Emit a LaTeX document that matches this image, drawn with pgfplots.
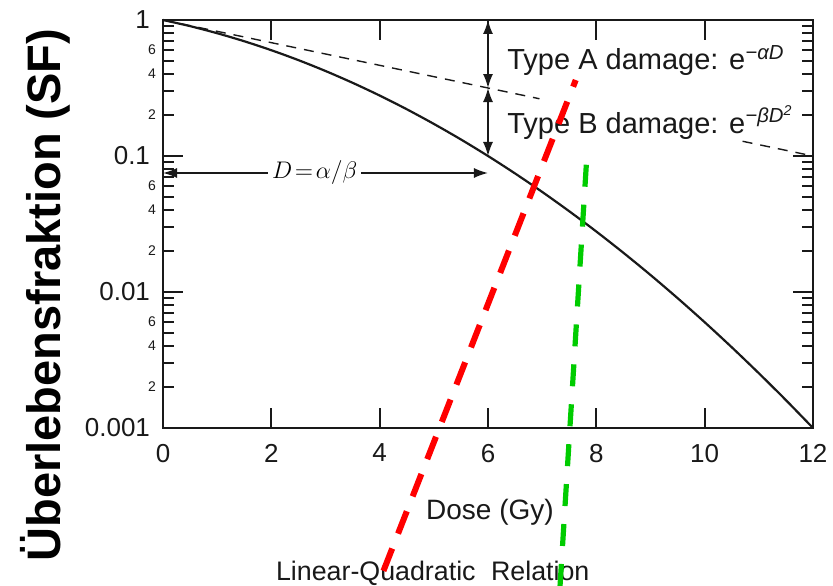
\documentclass[border=0pt]{standalone}
\usepackage{pgfplots}
\pgfplotsset{compat=1.18}
\usepackage{fontspec}
\setmainfont{Liberation Sans}
\usetikzlibrary{arrows.meta}
\definecolor{ink}{RGB}{25,25,25}
\definecolor{lqred}{RGB}{255,0,0}
\definecolor{lqgreen}{RGB}{0,204,0}

% linear-quadratic survival curve, SF(D)
\pgfplotstableread{
D     SF
0     1
0.5   0.9013
1     0.7994
1.5   0.6978
2     0.5995
2.5   0.5069
3     0.4217
3.5   0.3453
4     0.2783
4.5   0.2207
5     0.1722
5.5   0.1323
6     0.1
6.5   0.07439
7     0.05445
7.5   0.03924
8     0.02783
8.5   0.01942
9     0.01334
9.5   0.009013
10    0.005995
10.5  0.003924
11    0.002527
11.5  0.001603
12    0.001
}\lqcurve

\tikzset{dblarrow/.style={ink, line width=0.8pt,
  {Latex[length=7pt,width=5pt]}-{Latex[length=7pt,width=5pt]}}}

\begin{document}
\begin{tikzpicture}
\begin{axis}[
  scale only axis, width=325pt, height=204pt,
  ymode=log,
  xmin=0, xmax=12, ymin=0.001, ymax=1,
  xtick={0,2,4,6,8,10,12}, xticklabels={0,2,4,6,8,10,12},
  ytick={0.001,0.01,0.1,1}, yticklabels={0.001,0.01,0.1,1},
  minor ytick={0.002,0.003,0.004,0.005,0.006,0.007,0.008,0.009,
               0.02,0.03,0.04,0.05,0.06,0.07,0.08,0.09,
               0.2,0.3,0.4,0.5,0.6,0.7,0.8,0.9},
  tick align=inside,
  major tick length=10pt, minor tick length=5.5pt,
  every tick/.style={ink, line width=1pt},
  axis line style={ink, line width=1.4pt},
  ticklabel style={font=\fontsize{13}{15}\selectfont, text=ink},
  xticklabel style={yshift=-4.5pt},
  yticklabel style={xshift=-3pt},
  extra y ticks={0.002,0.004,0.006,0.02,0.04,0.06,0.2,0.4,0.6},
  extra y tick labels={2,4,6,2,4,6,2,4,6},
  extra y tick style={major tick length=5.5pt,
    yticklabel style={font=\fontsize{7}{8}\selectfont, xshift=3pt}},
  clip=false,
]
% survival curve
\addplot[ink, line width=1.1pt, smooth] table[x=D, y=SF] {\lqcurve};
% single-hit (type A) component, broken where the labels sit
\addplot[ink, line width=0.7pt, dash pattern=on 5pt off 4pt] coordinates {(0,1) (6.95,0.2636)};
\addplot[ink, line width=0.7pt, dash pattern=on 5pt off 4pt] coordinates {(10.7,0.1283) (12,0.1)};

% dose where both components are equal
\draw[dblarrow] (axis cs:6,1) -- (axis cs:6,0.3162);
\draw[dblarrow] (axis cs:6,0.3162) -- (axis cs:6,0.1);
\draw[dblarrow] (axis cs:0,0.075) -- (axis cs:6,0.075);
\node[fill=white, inner sep=2pt, font=\fontsize{11.5}{13}\selectfont] at (axis cs:2.8,0.075) {$D\!=\!\alpha/\beta$};

\node[anchor=base west, inner sep=0pt, font=\fontsize{14.5}{17}\selectfont, text=ink]
  at (axis cs:6.35,0.429) {Type A damage: e\textsuperscript{\itshape −αD}};
\node[anchor=base west, inner sep=0pt, font=\fontsize{14.5}{17}\selectfont, text=ink]
  at (axis cs:6.35,0.1476) {Type B damage: e\textsuperscript{\itshape −βD\textsuperscript{2}}};

% axis titles
\node[rotate=90, font=\fontsize{23.5}{28}\selectfont\bfseries] at (rel axis cs:-0.1815,0.326) {Überlebensfraktion (SF)};
\node[font=\fontsize{14}{17}\selectfont, text=ink] at (rel axis cs:0.503,-0.206) {Dose (Gy)};
\node[anchor=base, inner sep=0pt, font=\fontsize{13.4}{16}\selectfont, text=ink] at (rel axis cs:0.415,-0.375) {Linear-Quadratic\hspace{0.3em} Relation};

% highlight strokes
\addplot[lqred, line width=3pt, dash pattern=on 12pt off 8pt] coordinates {(4.07,8.9e-5) (7.62,0.362)};
\addplot[lqgreen, line width=2.6pt, dash pattern=on 11pt off 9pt] coordinates {(7.33,6.9e-5) (7.83,0.107)};

\coordinate (tl) at (rel axis cs:-0.2508,1.049);
\coordinate (br) at (rel axis cs:1.0308,-0.387);
\end{axis}
\pgfresetboundingbox
\path[use as bounding box] (tl) rectangle (br);
\end{tikzpicture}
\end{document}
